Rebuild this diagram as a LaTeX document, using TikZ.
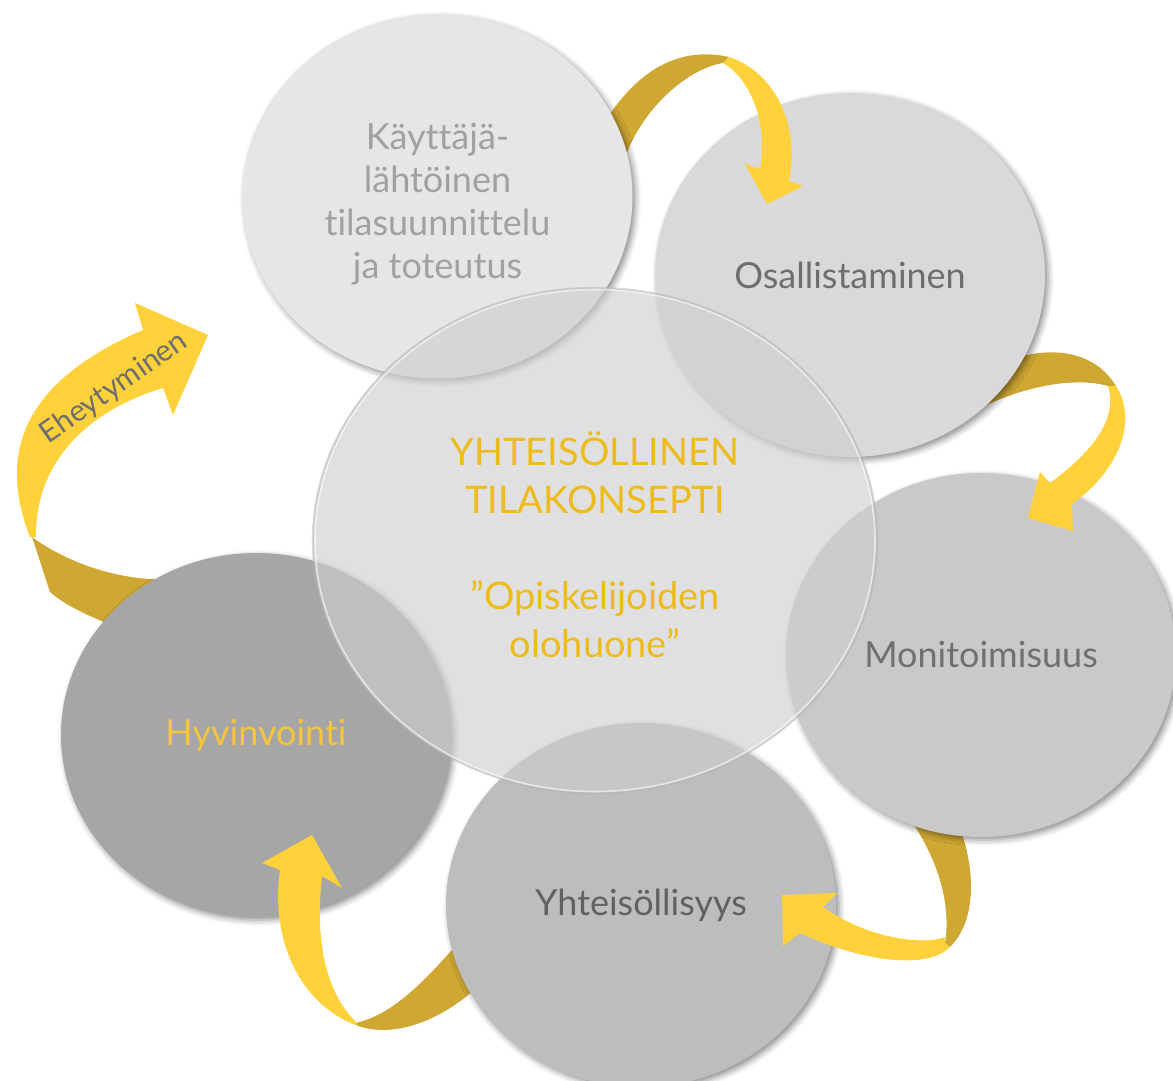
\documentclass[tikz,border=0pt]{standalone}
\usepackage{fontspec}
\setmainfont{Lato}[Ligatures=CommonOff]
\usetikzlibrary{shapes.geometric,shadows.blur}

\definecolor{ribbonlight}{HTML}{FFD13B}
\definecolor{ribbondark}{HTML}{CFA834}
\definecolor{conceptgold}{HTML}{EDBB1A}
\definecolor{wellgold}{HTML}{F4C63D}
\definecolor{userfill}{HTML}{E6E6E6}
\definecolor{partfill}{HTML}{D9D9D9}
\definecolor{multifill}{HTML}{C9C9C9}
\definecolor{commfill}{HTML}{BDBDBD}
\definecolor{wellfill}{HTML}{A6A6A6}
\definecolor{corefill}{HTML}{CECECE}

\begin{document}
\begin{tikzpicture}[x=0.5pt, y=-0.5pt,
    bubble/.style={ellipse, inner sep=0pt, minimum width=195pt, minimum height=182pt,
        align=center, font=\fontsize{18}{21.5}\selectfont,
        blur shadow={shadow xshift=1.5pt, shadow yshift=-1.5pt, shadow blur radius=3pt, shadow opacity=45}}]
    \useasboundingbox (0,0) rectangle (1173,1081);

    % 1. Tumma puoli nauhoista (piirretään ympyröiden alle)
    \fill[ribbondark] (606,120) .. controls (635,75) and (675,45) .. (729,57)
        -- (723,63) .. controls (690,68) and (645,105) .. (626,155) -- cycle;
    \fill[ribbondark] (965,385) .. controls (1010,348) and (1085,335) .. (1116,386)
        -- (1108,386) .. controls (1080,378) and (1030,382) .. (972,412) -- cycle;
    \fill[ribbondark] (900,805) .. controls (935,850) and (952,900) .. (945,943)
        -- (950,947) .. controls (978,920) and (978,860) .. (950,805) -- cycle;
    \fill[ribbondark] (465,935) .. controls (430,975) and (395,1015) .. (355,1023)
        -- (358,1026) .. controls (400,1040) and (450,1015) .. (485,980) -- cycle;
    \fill[ribbondark] (32,537) .. controls (70,565) and (130,585) .. (185,578)
        -- (150,640) .. controls (110,625) and (70,610) .. (50,592) -- cycle;

    % 2. Ympyrät
    \node[bubble, fill=userfill] (user) at (437.5,196.5) {};
    \node[align=center, text=black!37, font=\fontsize{18}{21.5}\selectfont] (usertext) at (437.5,204)
        {Käyttäjä-\\lähtöinen\\tilasuunnittelu\\ja toteutus};
    \node[bubble, fill=partfill, text=black!57] (part) at (850,275) {Osallistaminen};
    \node[bubble, fill=multifill, text=black!56] (multi) at (981,655) {Monitoimisuus};
    \node[bubble, fill=commfill, text=black!62] (comm) at (641,905) {Yhteisöllisyys};
    \node[bubble, fill=wellfill, text=wellgold] (well) at (256,735) {Hyvinvointi};

    % 3. Keskimmäinen läpikuultava ympyrä
    \node[ellipse, minimum width=282pt, minimum height=252.5pt, fill=corefill, fill opacity=0.63,
        draw=black!30, draw opacity=0.5, line width=1.2pt] (core) at (595,540.5) {};
    \draw[white, opacity=0.6, line width=0.8pt] (core.center) ellipse [x radius=140pt, y radius=125.5pt];
    \node[align=center, text=conceptgold, font=\fontsize{19}{24}\selectfont] (concept) at (595,545)
        {YHTEISÖLLINEN\\TILAKONSEPTI\\[24pt]”Opiskelijoiden\\olohuone”};

    % 4. Kirkas puoli nauhoista nuolenkärkineen
    \fill[ribbonlight] (729,57) .. controls (775,72) and (800,125) .. (789,181)
        -- (803,186) -- (767,204) -- (745,164) -- (760,169)
        .. controls (768,125) and (752,80) .. (723,63) -- cycle;
    \fill[ribbonlight] (1108,386) -- (1116,386) .. controls (1138,420) and (1120,470) .. (1072,504)
        -- (1073,531) -- (1028,518) -- (1040,472) -- (1050,483)
        .. controls (1092,452) and (1118,420) .. (1108,386) -- cycle;
    \fill[ribbonlight] (950,947) .. controls (930,968) and (870,965) .. (800,933)
        -- (783,946) -- (782,895) -- (837,893) -- (823,907)
        .. controls (870,940) and (925,945) .. (945,937) -- (945,943) -- cycle;
    \fill[ribbonlight] (358,1026) .. controls (300,1005) and (270,940) .. (280,870)
        -- (262,863) -- (312,835) -- (342,888) -- (322,876)
        .. controls (315,940) and (325,990) .. (355,1021) -- cycle;
    \fill[ribbonlight] (30,537) .. controls (0,460) and (15,385) .. (143,330)
        -- (135,303) -- (208,335) -- (173,415) -- (163,388)
        .. controls (90,410) and (35,460) .. (36,537) -- cycle;
    \node[rotate=35, text=black!57, font=\fontsize{15}{17}\selectfont] (whole) at (114,388) {Eheytyminen};
\end{tikzpicture}
\end{document}
